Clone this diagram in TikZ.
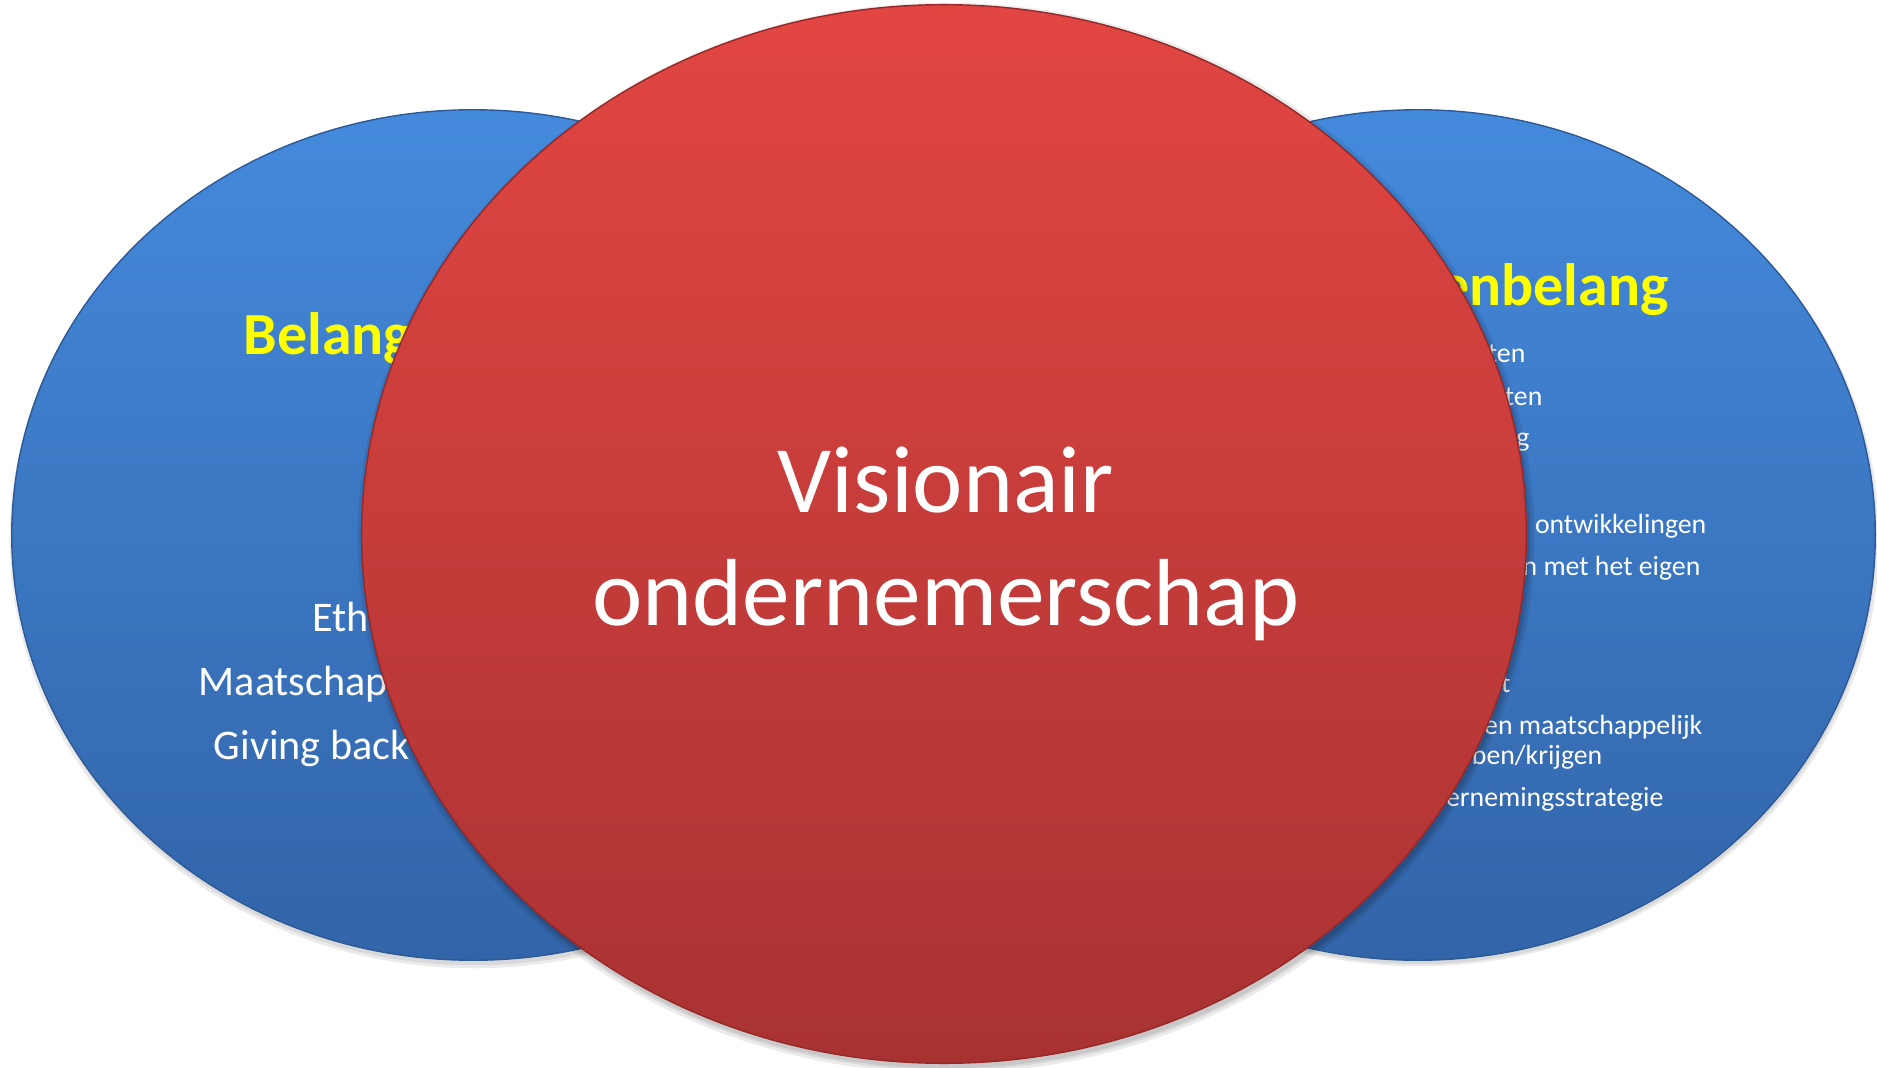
\documentclass[tikz,border=0pt]{standalone}
\usepackage{fontspec}
\setmainfont{Carlito}
\usetikzlibrary{shapes.geometric}
\definecolor{bluetop}{RGB}{68,138,220}
\definecolor{bluebot}{RGB}{50,100,168}
\definecolor{blueedge}{RGB}{45,90,150}
\definecolor{redtop}{RGB}{226,70,66}
\definecolor{redbot}{RGB}{168,50,50}
\definecolor{rededge}{RGB}{150,40,40}
\definecolor{titleyellow}{RGB}{255,255,0}
\tikzset{
  blueoval/.style={ellipse, inner sep=0pt, top color=bluetop, bottom color=bluebot, draw=blueedge, line width=0.4pt},
  redoval/.style={ellipse, inner sep=0pt, top color=redtop, bottom color=redbot, draw=rededge, line width=0.4pt},
  shadowoval/.style={ellipse, inner sep=0pt, fill=black, fill opacity=0.08},
  titletext/.style={inner sep=0pt, text=titleyellow, font=\fontsize{17}{20}\selectfont\bfseries},
  lefttext/.style={inner sep=0pt, text=white, font=\fontsize{12}{14}\selectfont},
  righttext/.style={inner sep=0pt, text=white, font=\fontsize{7.9}{9}\selectfont},
  centertext/.style={inner sep=0pt, text=white, font=\fontsize{27.1}{32}\selectfont}
}
\begin{document}
\begin{tikzpicture}[x=0.01cm, y=-0.01cm]
\useasboundingbox (0,0) rectangle (1877,1067);
% soft shadows of the blue ellipses
\node[shadowoval, minimum width=9.28cm, minimum height=8.58cm] (lshadowa) at (474,539) {};
\node[shadowoval, minimum width=9.22cm, minimum height=8.52cm] (lshadowb) at (474,539) {};
\node[shadowoval, minimum width=9.20cm, minimum height=8.54cm] (rshadowa) at (1419,539) {};
\node[shadowoval, minimum width=9.14cm, minimum height=8.50cm] (rshadowb) at (1419,539) {};
% blue ellipses
\node[blueoval, minimum width=9.22cm, minimum height=8.5cm] (leftoval) at (473,535) {};
\node[blueoval, minimum width=9.14cm, minimum height=8.5cm] (rightoval) at (1418,535) {};
% left texts
\node[titletext, anchor=base west] (ltitle) at (243,354) {Belang};
\node[lefttext, anchor=base west] (l1) at (312,631) {Eth};
\node[lefttext, anchor=base west] (l2) at (198,695) {Maatschap};
\node[lefttext, anchor=base west] (l3) at (213,759) {Giving back};
% right texts
\node[titletext, anchor=base east] (rtitle) at (1669,305) {Eigenbelang};
\node[righttext, anchor=base east] (r1) at (1526,362) {ten};
\node[righttext, anchor=base east] (r2) at (1543,405) {ten};
\node[righttext, anchor=base east] (r3) at (1530,446) {g};
\node[righttext, anchor=base east] (r4) at (1707,533) {ontwikkelingen};
\node[righttext, anchor=base east] (r5) at (1701,575) {n met het eigen};
\node[righttext, anchor=base east] (r6) at (1511,692) {t};
\node[righttext, anchor=base east] (r7) at (1703,734) {en maatschappelijk};
\node[righttext, anchor=base east] (r8) at (1603,764) {ben/krijgen};
\node[righttext, anchor=base east] (r9) at (1664,806) {ernemingsstrategie};
% soft shadow of the red ellipse
\node[shadowoval, minimum width=11.76cm, minimum height=10.70cm] (cshadowa) at (946,538) {};
\node[shadowoval, minimum width=11.70cm, minimum height=10.64cm] (cshadowb) at (946,538) {};
\node[shadowoval, minimum width=11.66cm, minimum height=10.60cm] (cshadowc) at (946,538) {};
% red ellipse
\node[redoval, minimum width=11.64cm, minimum height=10.58cm] (centeroval) at (944,534) {};
\node[centertext, anchor=base] (c1) at (946,512) {Visionair};
\node[centertext, anchor=base] (c2) at (946,625) {ondernemerschap};
\end{tikzpicture}
\end{document}
